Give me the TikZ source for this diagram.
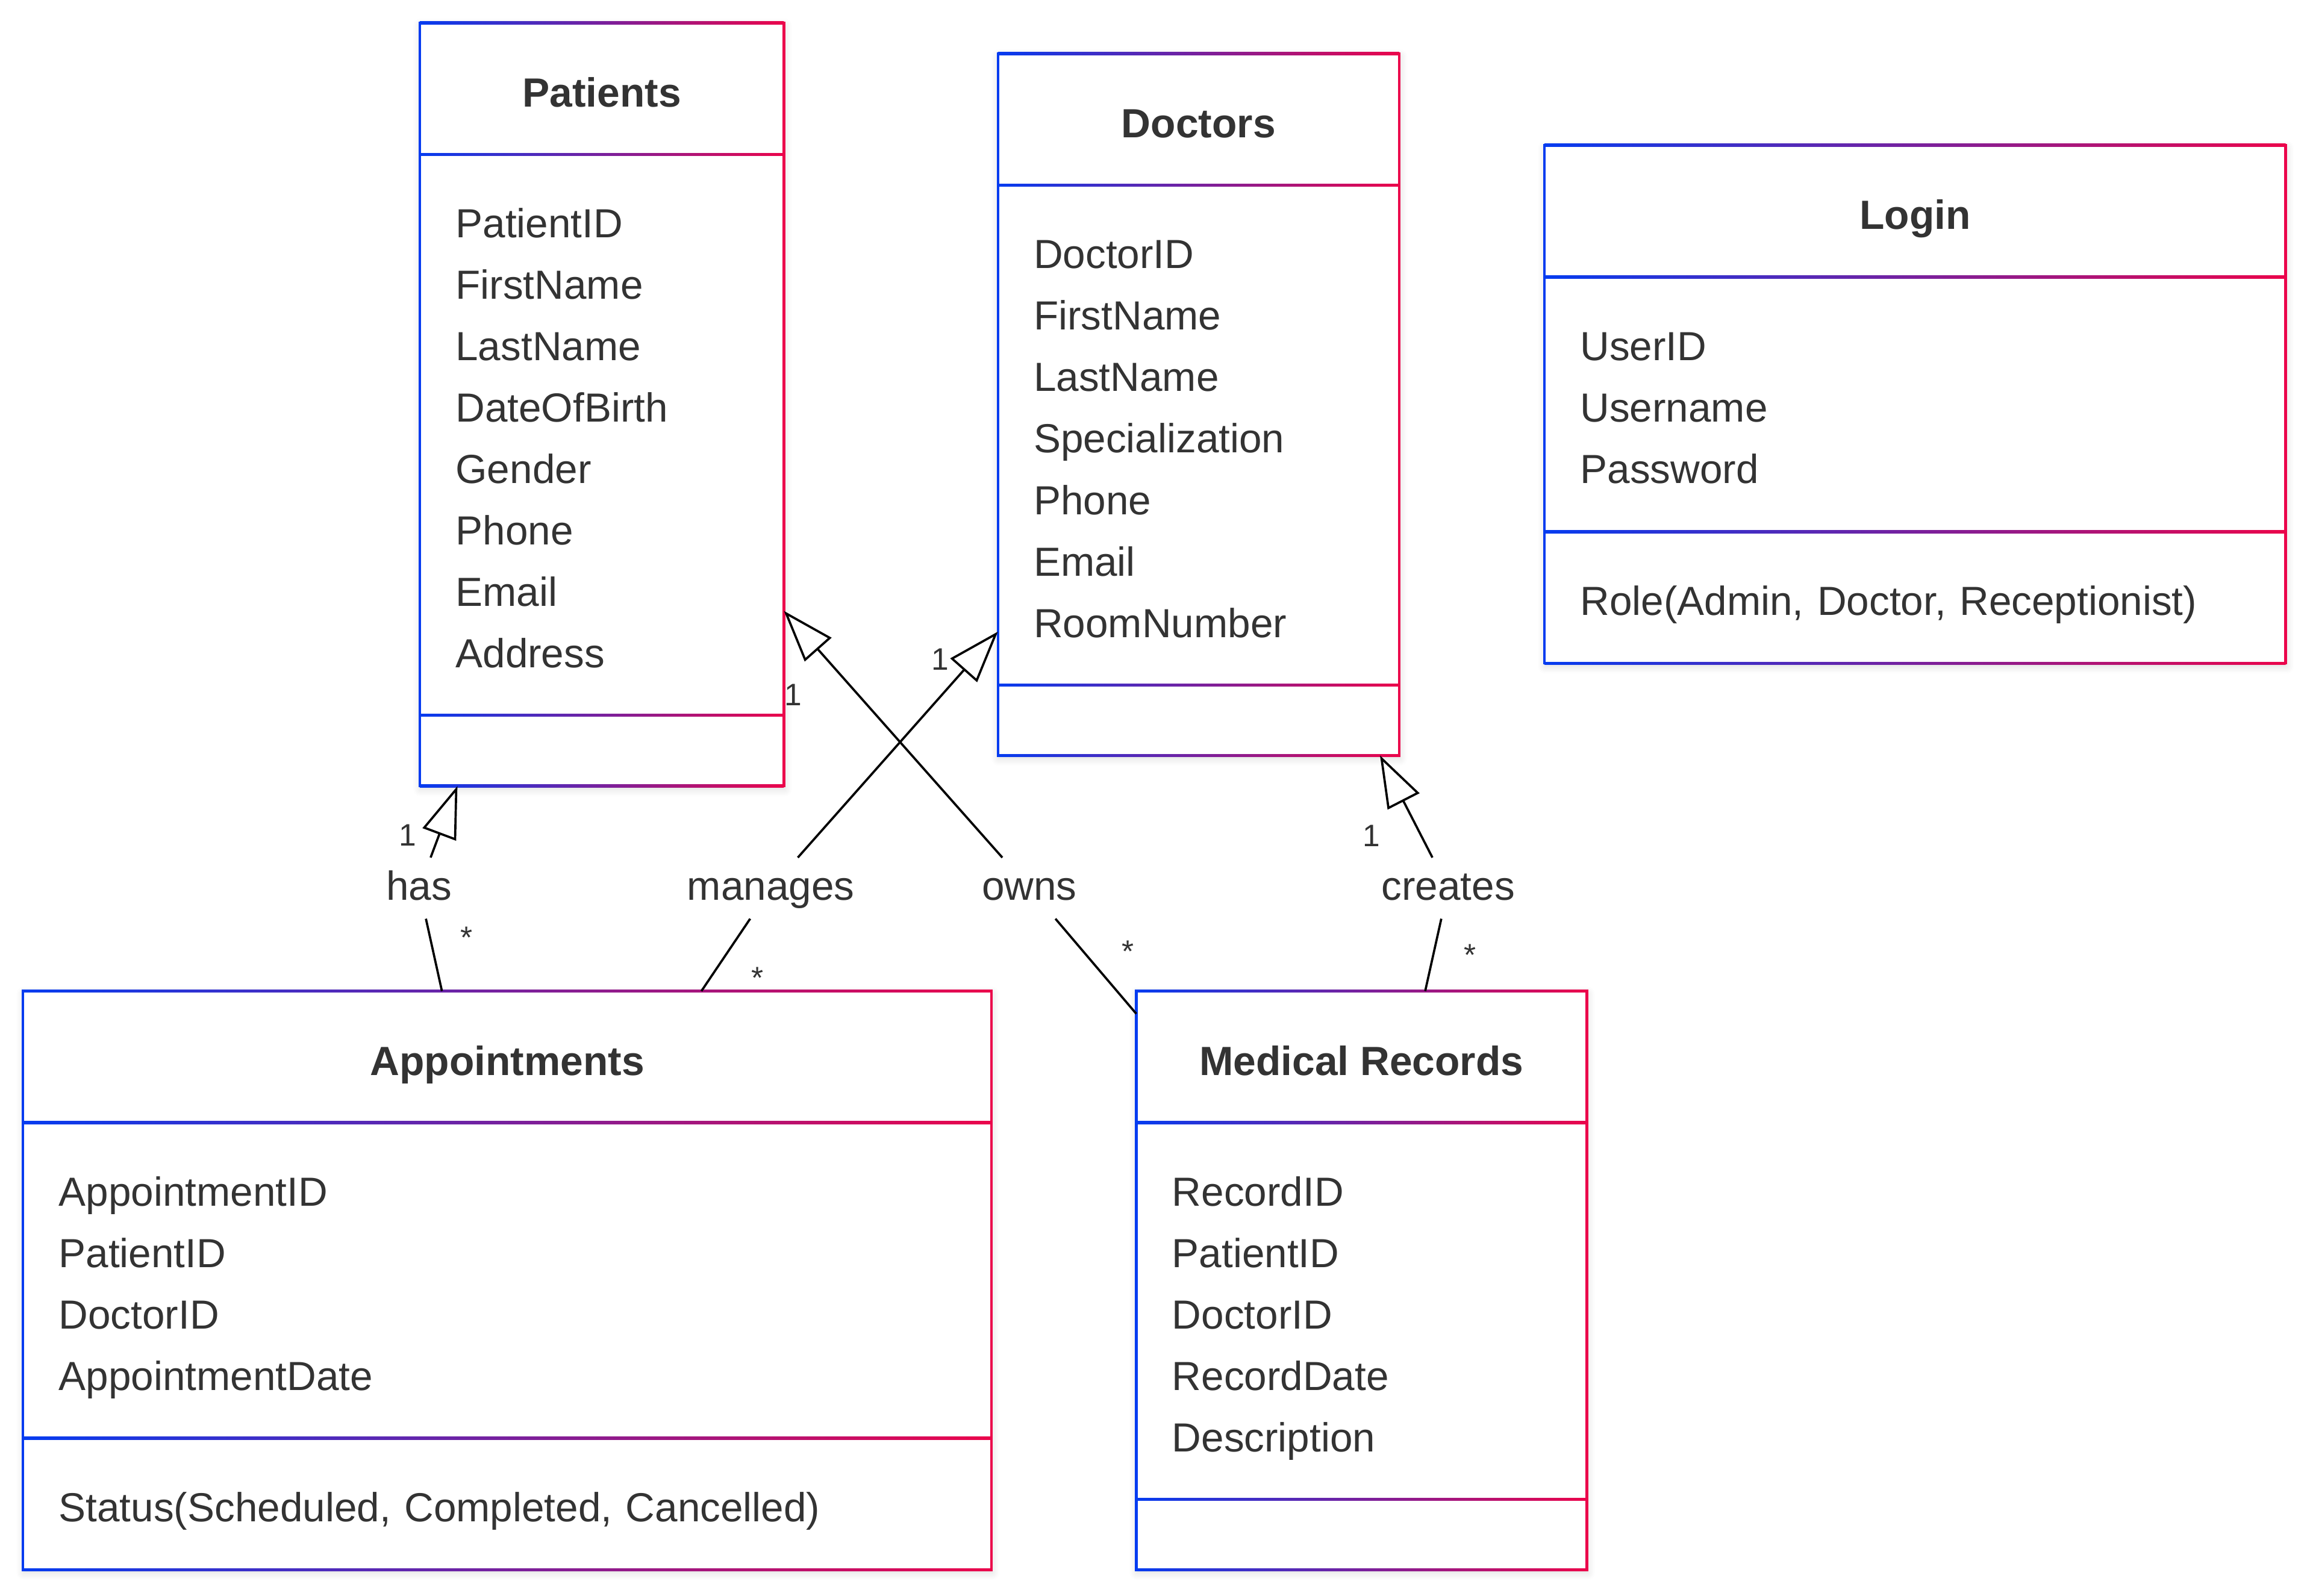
\documentclass[tikz,border=0pt]{standalone}
\usepackage{fontspec}
\setmainfont{Liberation Sans}
\usetikzlibrary{positioning, arrows.meta, backgrounds, shadows.blur}

\definecolor{txt}{HTML}{333333}
\definecolor{cblue}{RGB}{5,60,240}
\definecolor{cred}{RGB}{235,5,75}

\newcommand{\attrtop}{\rule{0pt}{47pt}}
\newcommand{\attrbot}{\rule[-23pt]{0pt}{23pt}}

\tikzset{
	classhead/.style={
		inner sep=0pt,
		minimum height=88.7pt,
		text height=26.2pt,
		text depth=1.5pt,
		align=center,
		text=txt,
		font=\fontsize{27.6}{32}\selectfont\bfseries
	},
	classbody/.style={
		inner xsep=24pt,
		inner ysep=0pt,
		align=left,
		text=txt,
		font=\fontsize{27.5}{41.6}\selectfont
	},
	gradline/.style={left color=cblue, right color=cred},
	vside/.style={line width=1.8pt, line cap=rect},
	link/.style={draw=black, line width=1.5pt},
	gen/.style={link, -{Triangle[open, length=35pt, width=24pt]}},
	rel/.style={
		inner sep=0pt,
		minimum height=41pt,
		text height=21pt,
		text depth=5pt,
		text=txt,
		font=\fontsize{27.5}{32}\selectfont
	},
	mult/.style={inner sep=0pt, anchor=base, text=txt, font=\fontsize{21}{25}\selectfont},
	shadowed/.style={blur shadow={shadow xshift=0.5pt, shadow yshift=-2pt, shadow blur radius=5pt, shadow blur steps=6, shadow opacity=15}},
}

\begin{document}
\begin{tikzpicture}[x=1pt, y=-1pt]
\useasboundingbox (0,0) rectangle (1565,1079.6);

% Patients
\node[classhead, minimum width=245.9pt, anchor=north west] (patH) at (284.1,15.5) {Patients};
\node[classbody, text width=197.9pt, minimum height=379pt, below=0pt of patH] (patA) {\attrtop PatientID\\FirstName\\LastName\\DateOfBirth\\Gender\\Phone\\Email\\Address\attrbot};
\node[classbody, text width=197.9pt, minimum height=47.5pt, below=0pt of patA] (patM) {};

% Doctors
\node[classhead, minimum width=271.1pt, anchor=north west] (docH) at (675.2,36.3) {Doctors};
\node[classbody, text width=223.1pt, minimum height=337.7pt, below=0pt of docH] (docA) {\attrtop DoctorID\\FirstName\\LastName\\Specialization\\Phone\\Email\\RoomNumber\attrbot};
\node[classbody, text width=223.1pt, minimum height=47.3pt, below=0pt of docA] (docM) {};

% Login
\node[classhead, minimum width=501.1pt, anchor=north west] (loginH) at (1045,98.3) {Login};
\node[classbody, text width=453.1pt, minimum height=172.1pt, below=0pt of loginH] (loginA) {\attrtop UserID\\Username\\Password\attrbot};
\node[classbody, text width=453.1pt, minimum height=88.5pt, below=0pt of loginA] (loginM) {\attrtop Role(Admin, Doctor, Receptionist)\attrbot};

% Appointments
\node[classhead, minimum width=654.8pt, anchor=north west] (apptH) at (15.6,670.6) {Appointments};
\node[classbody, text width=606.8pt, minimum height=213.1pt, below=0pt of apptH] (apptA) {\attrtop AppointmentID\\PatientID\\DoctorID\\AppointmentDate\attrbot};
\node[classbody, text width=606.8pt, minimum height=88.6pt, below=0pt of apptA] (apptM) {\attrtop Status(Scheduled, Completed, Cancelled)\attrbot};

% Medical Records
\node[classhead, minimum width=304.4pt, anchor=north west] (recH) at (768.8,670.6) {Medical Records};
\node[classbody, text width=256.4pt, minimum height=254.6pt, below=0pt of recH] (recA) {\attrtop RecordID\\PatientID\\DoctorID\\RecordDate\\Description\attrbot};
\node[classbody, text width=256.4pt, minimum height=47.1pt, below=0pt of recA] (recM) {};

% Box backgrounds
\begin{scope}[on background layer]
\foreach \cls in {pat,doc,login,appt,rec}
	\fill[white, shadowed] (\cls H.north west) rectangle (\cls M.south east);
\end{scope}

% Box borders
\foreach \cls in {pat,doc,login,appt,rec} {
	\foreach \prt in {H,A,M}
		\shade[gradline] ([yshift=0.9pt]\cls\prt.north west) rectangle ([yshift=-0.9pt]\cls\prt.north east);
	\shade[gradline] ([yshift=0.9pt]\cls M.south west) rectangle ([yshift=-0.9pt]\cls M.south east);
	\draw[vside, cblue] (\cls H.north west) -- (\cls M.south west);
	\draw[vside, cred] (\cls H.north east) -- (\cls M.south east);
}

% Relations
\node[rel] (has) at (283.6,601) {has};
\node[rel] (manages) at (521.5,601) {manages};
\node[rel] (owns) at (696.5,601) {owns};
\node[rel] (creates) at (979.8,601) {creates};

\draw[link] ([xshift=283.4pt]apptH.north west) -- (has);
\draw[gen] (has) -- ([xshift=25.4pt]patM.south west);
\draw[link] ([xshift=459pt]apptH.north west) -- (manages);
\draw[gen] (manages) -- ([yshift=-302pt]docA.north west);
\draw[link] ([yshift=-15.4pt]recH.north west) -- (owns);
\draw[gen] (owns) -- ([yshift=-308.8pt]patA.north east);
\draw[link] ([xshift=195.5pt]recH.north west) -- (creates);
\draw[gen] (creates) -- ([xshift=-13pt]docM.south east);

% Multiplicities
\node[mult] (hasOne) at (276,572.5) {1};
\node[mult] (hasMany) at (315.5,641.7) {*};
\node[mult] (managesOne) at (636,453.3) {1};
\node[mult] (managesMany) at (512.7,669) {*};
\node[mult] (ownsOne) at (536.5,477.6) {1};
\node[mult] (ownsMany) at (763,651) {*};
\node[mult] (createsOne) at (928,573) {1};
\node[mult] (createsMany) at (994.7,653.3) {*};

\end{tikzpicture}
\end{document}
